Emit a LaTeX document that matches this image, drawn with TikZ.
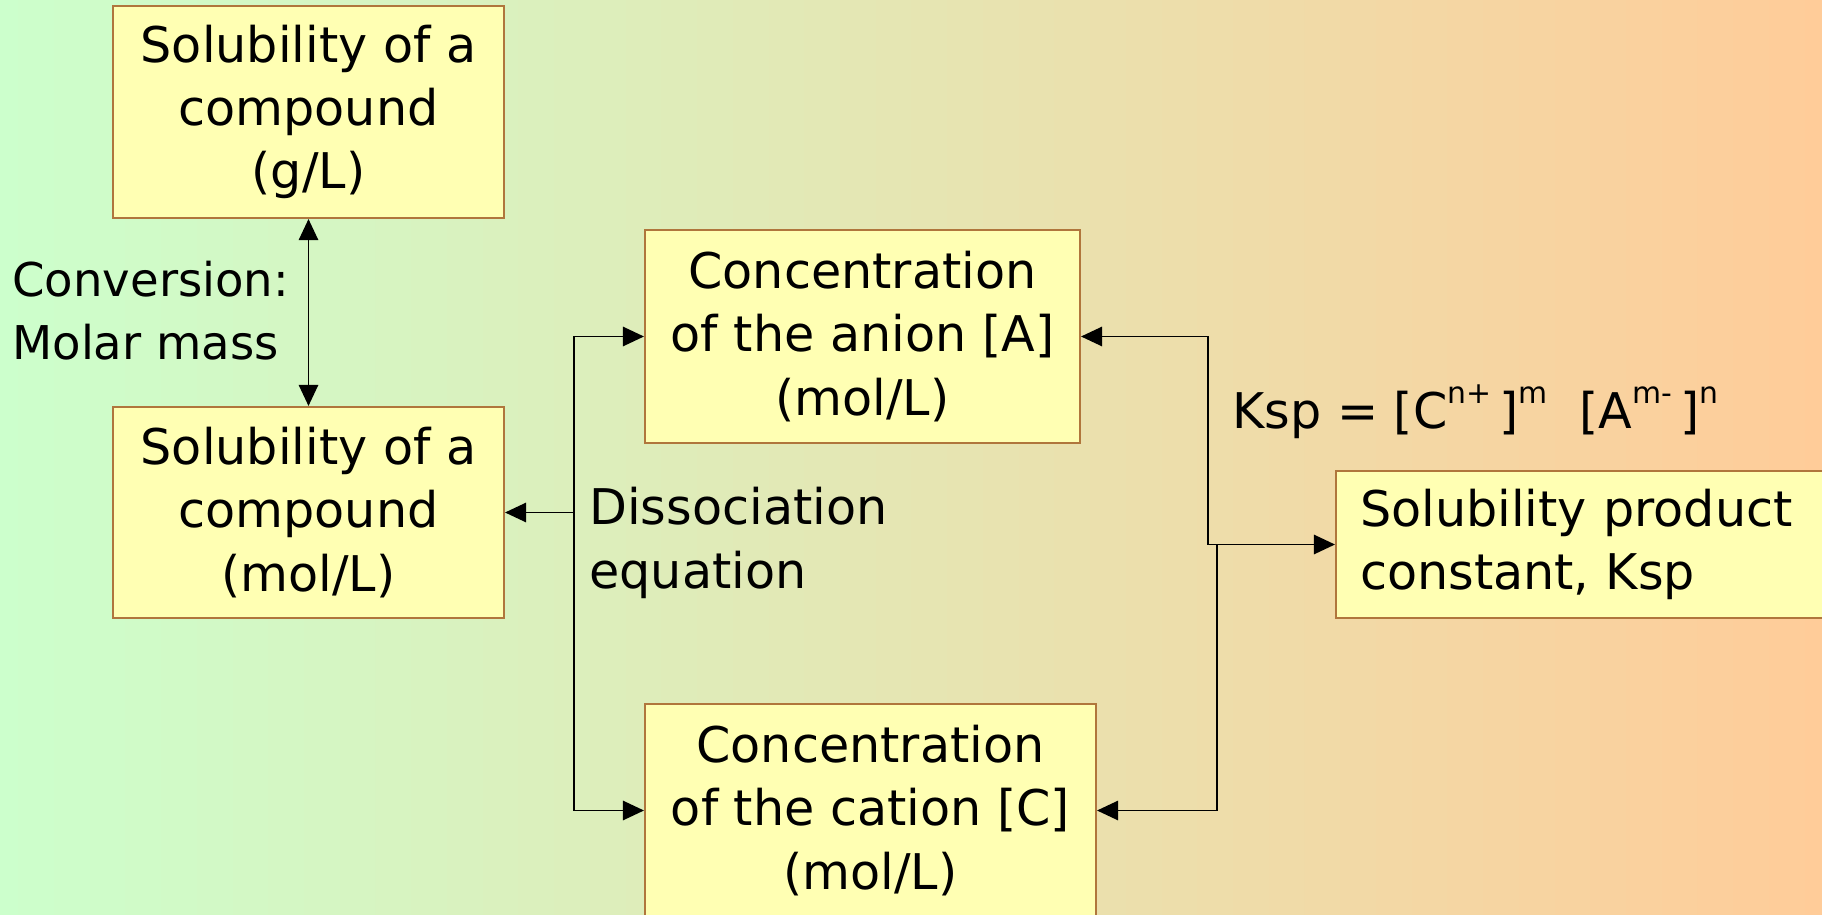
\documentclass[tikz,border=0pt]{standalone}
\usepackage{fontspec}
\setmainfont{DejaVu Sans}
\usetikzlibrary{arrows.meta, positioning}
\definecolor{bgleft}{RGB}{204,255,204}
\definecolor{bgright}{RGB}{255,204,153}
\definecolor{boxfill}{RGB}{255,255,179}
\definecolor{boxedge}{RGB}{176,118,60}
\newcommand\supx[1]{\raisebox{0.5em}{\fontsize{17}{17}\selectfont #1}}
\begin{document}
\begin{tikzpicture}[x=0.02cm, y=-0.02cm,
    font=\fontsize{28}{36}\selectfont,
    box/.style={draw=boxedge, fill=boxfill, line width=1.2pt, align=center, inner sep=0pt},
    lbl/.style={align=left, inner sep=0pt, anchor=west},
    link/.style={line width=1.1pt, -{Triangle[length=12pt, width=11pt]}},
    dlink/.style={line width=1.1pt, {Triangle[length=12pt, width=11pt]}-{Triangle[length=12pt, width=11pt]}}]
  \useasboundingbox (0,0) rectangle (1822,915);
  \shade[left color=bgleft, right color=bgright] (0,0) rectangle (1822,915);
  % boxes
  \node[box, minimum width=7.82cm, minimum height=4.24cm] (solg) at (308.5,112)
    {Solubility of a\\compound\\(g/L)};
  \node[box, minimum width=7.82cm, minimum height=4.22cm] (solm) at (308.5,512.5)
    {Solubility of a\\compound\\(mol/L)};
  \node[box, minimum width=8.7cm, minimum height=4.26cm] (anion) at (862.5,336.5)
    {Concentration\\of the anion [A]\\(mol/L)};
  \node[box, minimum width=9.02cm, minimum height=4.26cm] (cation) at (870.5,810.5)
    {Concentration\\of the cation [C]\\(mol/L)};
  \node[box, align=left, text width=9.12cm, inner xsep=0.48cm, minimum height=2.94cm] (ksp) at (1588,544.5)
    {Solubility product\\constant, Ksp};
  % labels
  \node[lbl, font=\fontsize{26.5}{36}\selectfont] (conv) at (12,311) {Conversion:\\Molar mass};
  \node[lbl] (diss) at (589,543) {Dissociation\\equation};
  \node[lbl] (kform) at (1232,412)
    {Ksp = [C\supx{n+}\,]\supx{m}\ \ [A\supx{m-}\,]\supx{n}};
  % connectors
  \draw[dlink] (solg.south) -- (solm.north);
  \coordinate (djoin) at (574,512.5);
  \draw[link] (djoin) -- (solm.east);
  \draw[link] (djoin) |- (anion.west);
  \draw[link] (djoin) |- (cation.west);
  \coordinate (kjoin) at (1208,544.5);
  \coordinate (kjoin2) at (1217,544.5);
  \draw[link] (kjoin) |- (anion.east);
  \draw[link] (kjoin) -- (ksp.west);
  \draw[link] (kjoin2) |- (cation.east);
\end{tikzpicture}
\end{document}
